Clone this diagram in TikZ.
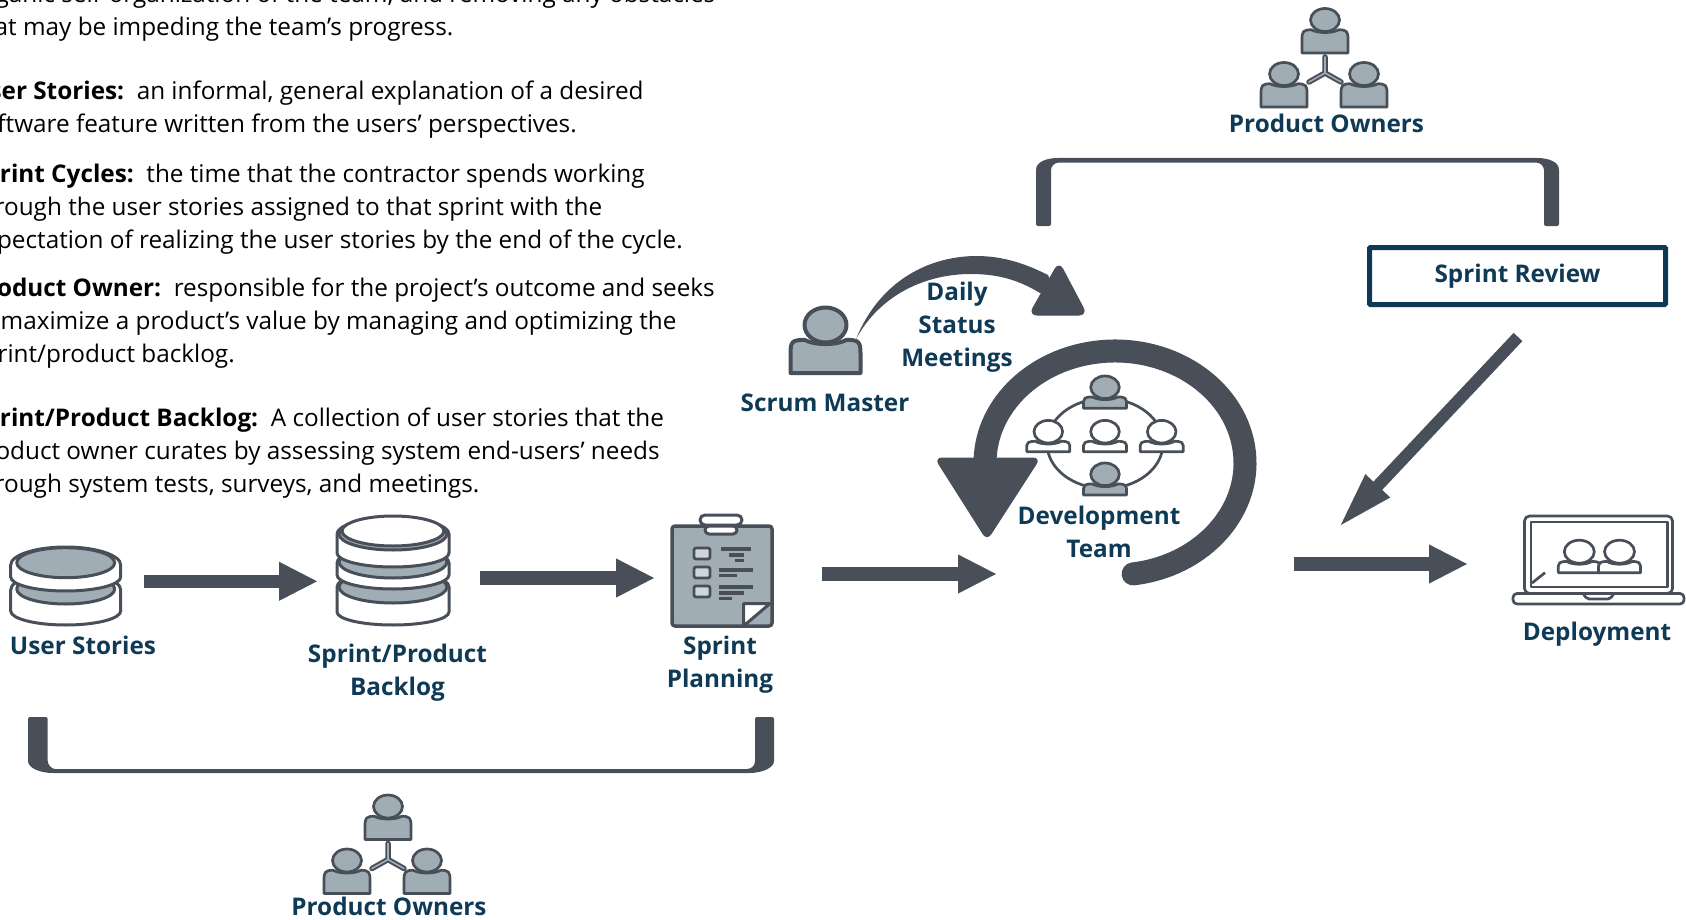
\documentclass[tikz,border=0pt]{standalone}
\usepackage{fontspec}
\setmainfont{Open Sans}
\usetikzlibrary{arrows.meta}
\definecolor{dk}{HTML}{484F59}
\definecolor{gy}{HTML}{A0ADB5}
\definecolor{navy}{HTML}{0F3A56}
\tikzset{
  para/.style={anchor=base west,align=left,inner sep=0pt,text=black,font=\fontsize{24.3}{33}\selectfont},
  lab/.style={anchor=base,align=center,inner sep=0pt,text=navy,font=\fontsize{24.3}{33}\selectfont\bfseries},
  fat/.style={draw=dk,line width=13.4pt,-{Triangle[length=39pt,width=36pt]}},
  ic/.style={draw=dk,line width=#1,line join=round},
  ic/.default=3pt,
  solid fill/.style={fill=dk,draw=none}
}
% \person{x}{y}{rx}{ry}{halfwidth}{bottom offset}{fill}{line width}
\newcommand{\person}[8]{%
  \pgfmathsetmacro{\pT}{#2+0.85*#4}%
  \pgfmathsetmacro{\pD}{#2+#4+0.17*#4}%
  \pgfmathsetmacro{\pB}{#2+#6}%
  \pgfmathsetmacro{\pM}{\pT+0.4*(\pB-\pT)}%
  \pgfmathsetmacro{\pL}{#1-#5}%
  \pgfmathsetmacro{\pR}{#1+#5}%
  \pgfmathsetmacro{\pA}{#1-0.6*#5}%
  \pgfmathsetmacro{\pE}{#1+0.6*#5}%
  \pgfmathsetmacro{\pC}{#1-0.3*#5}%
  \pgfmathsetmacro{\pF}{#1+0.3*#5}%
  \pgfmathsetmacro{\pK}{#1-0.95*#5}%
  \pgfmathsetmacro{\pG}{#1+0.95*#5}%
  \draw[ic=#8,fill=#7] (\pL,\pB) -- (\pL,\pM) .. controls (\pL,{\pT+2}) and (\pK,\pT) .. (\pA,\pT)
     .. controls (\pC,\pD) and (\pF,\pD) .. (\pE,\pT)
     .. controls (\pG,\pT) and (\pR,{\pT+2}) .. (\pR,\pM) -- (\pR,\pB) -- cycle;
  \draw[ic=#8,fill=#7] (#1,#2) ellipse [x radius=#3,y radius=#4];
}
% \disk{cx}{outer centre}{outer rx}{outer ry}{side bottom}{bottom ry}{gray centre}{gray rx}{gray ry}
\newcommand{\disk}[9]{%
  \draw[ic=3pt,fill=white] ({#1-#3},#2) -- ({#1-#3},#5)
     arc[start angle=180,end angle=0,x radius=#3,y radius=#6]
     -- ({#1+#3},#2) arc[start angle=0,end angle=-180,x radius=#3,y radius=#4] -- cycle;
  \draw[ic=3pt,fill=gy] (#1,#7) ellipse [x radius=#8,y radius=#9];
}
\newcommand{\owners}[2]{%
  \begin{scope}[shift={(#1,#2)}]
    \person{0}{0}{14.5}{11.5}{23}{33}{gy}{2.7pt}
    \person{-41}{54}{14.5}{11.5}{23}{33}{gy}{2.7pt}
    \person{39}{54}{14.5}{11.5}{23}{33}{gy}{2.7pt}
    \draw[dk,line width=5.5pt,line cap=round,line join=round] (0,37) -- (0,53) -- (-16,62) (0,53) -- (16,62);
    \draw[gy,line width=1.6pt,line cap=round,line join=round] (0,37) -- (0,53) -- (-16,62) (0,53) -- (16,62);
  \end{scope}
}
\newcommand{\barrect}[4]{\fill[dk] (#1,#2) rectangle ++(#3,#4);}
\begin{document}
\begin{tikzpicture}[x=1pt,y=-1pt]
\useasboundingbox (0,0) rectangle (1686,920);
\begin{scope}
\clip (0,0) rectangle (1686,920);
% ---- text
\node[para] (t1) at (-29,36) {organic self-organization of the team, and removing any obstacles\\that may be impeding the team’s progress.};
\node[para] (t2) at (-29,133) {\textbf{User Stories:}\ \ an informal, general explanation of a desired\\software feature written from the users’ perspectives.};
\node[para] (t3) at (-29,248) {\textbf{Sprint Cycles:}\ \ the time that the contractor spends working\\through the user stories assigned to that sprint with the\\expectation of realizing the user stories by the end of the cycle.};
\node[para] (t4) at (-29,362) {\textbf{Product Owner:}\ \ responsible for the project’s outcome and seeks\\to maximize a product’s value by managing and optimizing the\\sprint/product backlog.};
\node[para] (t5) at (-29,492.5) {\textbf{Sprint/Product Backlog:}\ \ A collection of user stories that the\\product owner curates by assessing system end-users’ needs\\through system tests, surveys, and meetings.};
% ---- user stories
\disk{65.7}{590}{55}{18}{611}{14}{589}{49}{15}
\disk{65.7}{565}{55}{18}{577}{14}{562.7}{49}{15}
% ---- backlog
\disk{393}{587}{56}{16}{612}{13}{587}{54}{16}
\disk{393}{563}{56}{16}{575}{14}{562}{54}{16}
\disk{393}{534}{56}{16}{553}{14}{534}{54}{16}
\draw[ic=3pt,fill=white] (393,531) ellipse [x radius=51,y radius=15];
% ---- clipboard
\draw[ic=3.5pt,fill=gy,rounded corners=3pt] (672,526) rectangle (772,626);
\draw[ic=3pt,fill=white,rounded corners=4pt] (705,526) rectangle (737,534);
\draw[ic=3pt,fill=white,rounded corners=5pt] (700,515) rectangle (742,525);
\foreach \yy in {548,567,586}{\draw[ic=2.8pt,fill=gy!50!white,rounded corners=2pt] (694,\yy) rectangle (710,{\yy+11});}
\barrect{720.5}{547}{30.5}{3.5}\barrect{729}{553}{14.6}{3.5}\barrect{735}{558.5}{8.6}{3.5}
\barrect{719}{568}{34}{3.5}\barrect{719}{573.5}{18}{3.5}
\barrect{719}{585}{34}{3.5}\barrect{719}{591}{24.6}{3.5}\barrect{719}{596.5}{13}{3.5}
\draw[ic=3pt,fill=white] (743.6,603.5) -- (770,603.5) -- (743.6,626) -- cycle;
% ---- labels
\node[lab] (lus) at (83,654) {User Stories};
\node[lab] (lbl) at (397.5,695) {Sprint/Product\\Backlog};
\node[lab] (lsp) at (720,687.5) {Sprint\\Planning};
\node[lab] (lsm) at (825,411.7) {Scrum Master};
\node[lab] (lds) at (957,366) {Daily\\Status\\Meetings};
\node[lab] (ldt) at (1099,557) {Development\\Team};
\node[lab] (ldp) at (1597,640) {Deployment};
\node[lab] (lpo1) at (1326.5,133) {Product Owners};
\node[lab] (lpo2) at (389,915) {Product Owners};
% ---- sprint review
\node[draw=navy,line width=5pt,minimum width=296pt,minimum height=57pt,rounded corners=1pt,inner sep=0pt,text=navy,font=\fontsize{24.3}{33}\selectfont\bfseries] (rev) at (1517.5,276) {Sprint Review};
% ---- brackets
\fill[dk,rounded corners=2pt] (1036,226) -- (1036,172) .. controls (1036,162) and (1046,158) .. (1060,158) -- (1535,158) .. controls (1549,158) and (1559,162) .. (1559,172) -- (1559,226) -- (1544,226) -- (1544,172) .. controls (1544,166) and (1540,162.7) .. (1535,162.7) -- (1060,162.7) .. controls (1055,162.7) and (1051,166) .. (1051,172) -- (1051,226) -- cycle;
\fill[dk,rounded corners=2pt] (28,717) -- (28,759) .. controls (28,768) and (40,773) .. (55,773) -- (747,773) .. controls (762,773) and (774,768) .. (774,759) -- (774,717) -- (755,717) -- (755,759) .. controls (755,765) and (752,769) .. (745,769) -- (57,769) .. controls (52,769) and (47.7,765) .. (47.7,759) -- (47.7,717) -- cycle;
% ---- owners
\owners{1325}{20}
\owners{388}{806.5}
% ---- straight arrows
\coordinate (a1s) at (143.6,581.3); \coordinate (a1e) at (318,581.3);
\coordinate (a2s) at (479.5,578); \coordinate (a2e) at (655,578);
\coordinate (a3s) at (822,574); \coordinate (a3e) at (997,574);
\coordinate (a4s) at (1294,564); \coordinate (a4e) at (1468,564);
\coordinate (a5s) at (1518,337); \coordinate (a5e) at (1338,528);
\draw[fat] (a1s) -- (a1e);
\draw[fat] (a2s) -- (a2e);
\draw[fat] (a3s) -- (a3e);
\draw[fat] (a4s) -- (a4e);
\draw[draw=dk,line width=12pt,-{Triangle[length=58pt,width=30pt]}] (a5s) -- (a5e);
% ---- scrum master
\person{825.5}{325}{21}{17.5}{35}{48}{gy}{4pt}
% ---- daily status arrow
\fill[dk] (856,339) .. controls (880,280) and (930,256) .. (976.6,256) .. controls (1005,256) and (1028,265) .. (1048,275) -- (1060,300) -- (1039.5,292.7) .. controls (1020,281) and (1000,274) .. (971,274) .. controls (925,274) and (880,295) .. (856,339) -- cycle;
\fill[dk,draw=dk,line width=1pt,line join=round,rounded corners=8pt] (1059,262) -- (1087,315) -- (1029,315) -- cycle;
% ---- cycle arrow
\draw[dk,line width=23pt,line cap=round] (1115,463) ++(82:130 and 112) arc[start angle=82,end angle=-178,x radius=130,y radius=112];
\fill[dk,draw=dk,line width=1pt,line join=round,rounded corners=7pt] (935,458) -- (1040,458) -- (987,540) -- cycle;
% ---- team
\draw[ic=2.7pt] (1105,443.5) ellipse [x radius=58,y radius=45];
\person{1105}{387.3}{14.3}{11.3}{21.5}{21}{gy}{2.7pt}
\person{1048.3}{431.7}{14.3}{11.3}{21.5}{20}{white}{2.7pt}
\person{1105}{431.7}{14.3}{11.3}{21.5}{20}{white}{2.7pt}
\person{1161.7}{431.7}{14.3}{11.3}{21.5}{20}{white}{2.7pt}
\person{1105}{474.3}{14.3}{11.3}{21.5}{20.7}{gy}{2.7pt}
% ---- laptop
\draw[ic=2.7pt,fill=white,rounded corners=5pt] (1524.5,516) -- (1672.5,516) -- (1672.5,593.5) -- (1524.5,593.5) -- cycle;
\draw[ic=2.7pt] (1531,522) rectangle (1667.5,587);
\draw[ic=2.7pt,fill=white,rounded corners=4pt] (1513,593.5) -- (1684,593.5) -- (1684,604) -- (1513,604) -- cycle;
\draw[ic=2.7pt,rounded corners=2pt] (1583,593.5) -- (1587,599) -- (1610,599) -- (1614,593.5);
\draw[ic=2.7pt] (1532,583) -- (1545,572.7);
\person{1579.3}{551.7}{15}{11.5}{21}{21}{white}{2.7pt}
\person{1619.5}{551.7}{15}{11.5}{21}{21}{white}{2.7pt}
\end{scope}
\end{tikzpicture}
\end{document}
